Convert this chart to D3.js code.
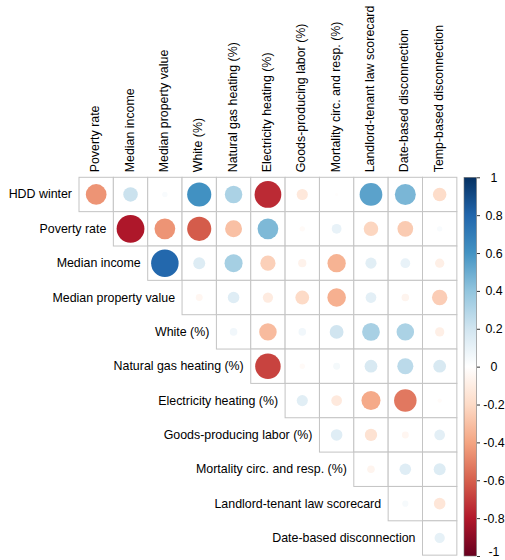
<!DOCTYPE html>
<html>
<head>
<meta charset="utf-8">
<script src="https://cdn.jsdelivr.net/npm/d3@7"></script>
<style>
body { margin: 0; background: #fff; }
text { font-family: "Liberation Sans", Arial, sans-serif; fill: #000; }
</style>
</head>
<body>
<div id="vis"></div>
<script>
//variables on each axis (rows lose the last one, columns lose the first one)
const rowNames = ["HDD winter", "Poverty rate", "Median income", "Median property value", "White (%)",
    "Natural gas heating (%)", "Electricity heating (%)", "Goods-producing labor (%)",
    "Mortality circ. and resp. (%)", "Landlord-tenant law scorecard", "Date-based disconnection"]
const colNames = ["Poverty rate", "Median income", "Median property value", "White (%)",
    "Natural gas heating (%)", "Electricity heating (%)", "Goods-producing labor (%)",
    "Mortality circ. and resp. (%)", "Landlord-tenant law scorecard", "Date-based disconnection",
    "Temp-based disconnection"]

//correlations, row i starts at column i
const hddWinter = [-0.45, 0.22, 0.03, 0.61, 0.32, -0.75, -0.13, -0.01, 0.54, 0.46, -0.19]
const povertyRate = [-0.81, -0.45, -0.61, -0.3, 0.45, -0.03, 0.1, -0.22, -0.26, 0.03]
const medianIncome = [0.79, 0.15, 0.34, -0.24, -0.07, -0.35, 0.13, 0.1, -0.09]
const medianProperty = [-0.05, 0.14, -0.11, -0.2, -0.36, 0.12, -0.06, -0.25]
const white = [0.06, -0.32, 0.06, 0.2, 0.33, 0.32, -0.09]
const naturalGas = [-0.68, -0.03, 0.05, 0.17, 0.27, 0.17]
const electricity = [0.13, -0.12, -0.38, -0.53, -0.02]
const goodsLabor = [0.14, -0.16, -0.05, 0.12]
const mortality = [-0.06, 0.14, 0.15]
const landlord = [0.04, -0.14]
const dateBased = [0.11]

const corrRows = [hddWinter, povertyRate, medianIncome, medianProperty, white, naturalGas,
    electricity, goodsLabor, mortality, landlord, dateBased]

const legendTicks = [1, 0.8, 0.6, 0.4, 0.2, 0, -0.2, -0.4, -0.6, -0.8, -1]

const width = 505
const height = 560
const cell = 34.35
const gridLeft = 79
const gridTop = 177.3

const svg = d3.select("#vis")
    .append("svg")
    .attr("width", width)
    .attr("height", height)

//RdBu palette as used by corrplot
const palette = ["#67001F", "#B2182B", "#D6604D", "#F4A582", "#FDDBC7", "#FFFFFF",
    "#D1E5F0", "#92C5DE", "#4393C3", "#2166AC", "#053061"]
const color = d3.scaleLinear()
    .domain(d3.range(11).map(i => -1 + i * 0.2))
    .range(palette)

const x = d3.scaleBand().domain(colNames).range([gridLeft, gridLeft + cell * colNames.length])
const y = d3.scaleBand().domain(rowNames).range([gridTop, gridTop + cell * rowNames.length])
const radius = d3.scaleSqrt().domain([0, 1]).range([0, 0.45 * cell])

//flatten the triangle into cells
const cells = []
corrRows.forEach((values, i) => {
    values.forEach((v, k) => {
        cells.push({ row: rowNames[i], col: colNames[i + k], value: v })
    })
})

//grid
svg.append("g")
    .selectAll("rect")
    .data(cells)
    .join("rect")
    .attr("x", d => x(d.col))
    .attr("y", d => y(d.row))
    .attr("width", x.bandwidth())
    .attr("height", y.bandwidth())
    .attr("fill", "white")
    .attr("stroke", "#c4c4c4")
    .attr("stroke-width", 1)

//circles
svg.append("g")
    .selectAll("circle")
    .data(cells)
    .join("circle")
    .attr("cx", d => x(d.col) + x.bandwidth() / 2)
    .attr("cy", d => y(d.row) + y.bandwidth() / 2)
    .attr("r", d => radius(Math.abs(d.value)))
    .attr("fill", d => color(d.value))

//row labels
svg.append("g")
    .selectAll("text")
    .data(rowNames)
    .join("text")
    .attr("x", (d, i) => x(colNames[i]) - 7)
    .attr("y", d => y(d) + y.bandwidth() / 2)
    .attr("text-anchor", "end")
    .attr("dominant-baseline", "central")
    .style("font-size", "12.4px")
    .text(d => d)

//column labels, rotated
svg.append("g")
    .selectAll("text")
    .data(colNames)
    .join("text")
    .attr("transform", d => `translate(${x(d) + x.bandwidth() / 2 - 1}, ${gridTop - 5}) rotate(-90)`)
    .attr("text-anchor", "start")
    .attr("dominant-baseline", "central")
    .style("font-size", "12.4px")
    .text(d => d)

//colour legend
const legY = d3.scaleLinear().domain([-1, 1]).range([556, gridTop])
const defs = svg.append("defs")
const grad = defs.append("linearGradient")
    .attr("id", "legGrad")
    .attr("x1", 0).attr("y1", 1).attr("x2", 0).attr("y2", 0)
grad.selectAll("stop")
    .data(palette)
    .join("stop")
    .attr("offset", (d, i) => i / (palette.length - 1))
    .attr("stop-color", d => d)

svg.append("rect")
    .attr("x", 464)
    .attr("y", legY(1))
    .attr("width", 12.5)
    .attr("height", legY(-1) - legY(1))
    .attr("fill", "url(#legGrad)")
    .attr("stroke", "#777")
    .attr("stroke-width", 0.6)

const legAxis = svg.append("g")
    .attr("transform", "translate(477, 0)")
    .call(d3.axisRight(legY)
        .tickValues(legendTicks)
        .tickSize(3)
        .tickPadding(4)
        .tickFormat(d => String(d)))
legAxis.select(".domain").remove()
legAxis.selectAll("line").attr("stroke", "#333")
legAxis.selectAll("text")
    .attr("x", 17)
    .attr("text-anchor", "middle")
    .style("font-size", "12.4px")
    .attr("fill", "#000")
    .style("font-family", '"Liberation Sans", Arial, sans-serif')
//keep the bottom label inside the page
legAxis.selectAll("text")
    .filter(d => d === -1)
    .attr("dy", "-0.05em")
</script>
</body>
</html>
